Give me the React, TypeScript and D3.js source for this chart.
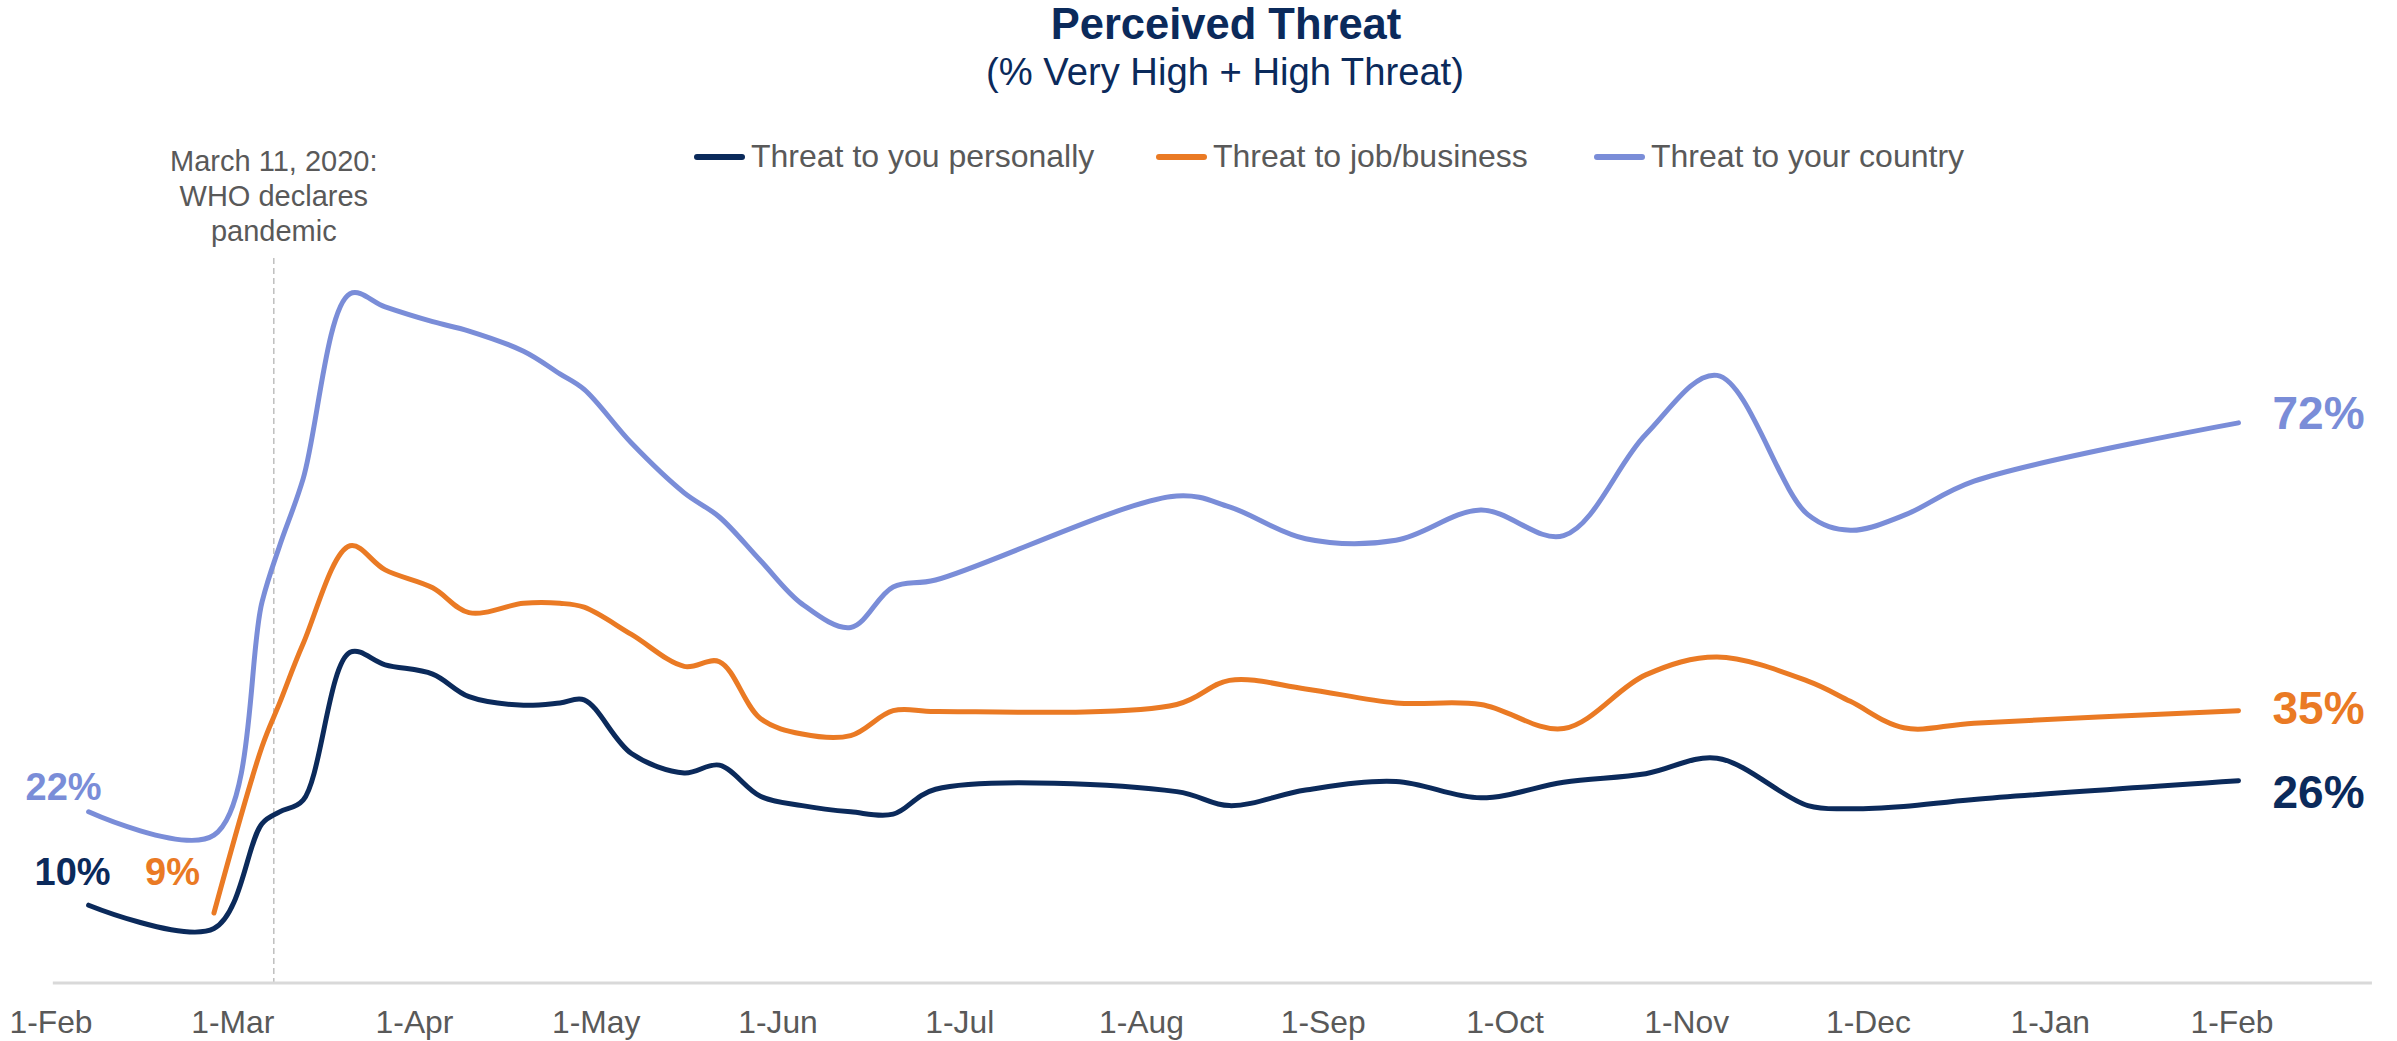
import React from "react";
import * as d3 from "d3";

// ---------- DATA ----------
const waveDates = [
  "2020-02-07", "2020-02-27", "2020-03-06", "2020-03-09", "2020-03-13", "2020-03-21",
  "2020-03-27", "2020-04-04", "2020-04-10", "2020-04-19", "2020-04-25", "2020-04-29",
  "2020-05-07", "2020-05-16", "2020-05-22", "2020-05-29", "2020-06-05", "2020-06-13",
  "2020-06-20", "2020-06-27", "2020-08-07", "2020-08-16", "2020-08-29", "2020-09-13",
  "2020-09-27", "2020-10-11", "2020-10-25", "2020-11-06", "2020-11-21", "2020-11-28",
  "2020-12-07", "2020-12-19", "2021-02-02",
];

const threatPersonal = [
  10, 7, 20.5, 22, 23.5, 42.5, 40.9, 39.7, 36.8, 35.7, 36.0, 36.4,
  29.5, 27, 28, 24, 22.8, 22, 21.7, 24.9, 24.6, 22.8, 24.8, 25.9,
  23.8, 25.8, 26.9, 28.9, 22.8, 22.4, 22.7, 23.6, 26,
];

const threatJob: (number | null)[] = [
  null, 9, 30.4, 36, 43.6, 56.2, 53.1, 50.8, 47.6, 48.8, 48.8, 48.3,
  44.8, 40.7, 41.3, 34, 32, 31.8, 35, 34.9, 35.8, 38.9, 37.8, 36,
  35.8, 32.7, 39.6, 41.9, 38.8, 36.2, 32.8, 33.4, 35,
];

const threatCountry = [
  22, 19, 49, 56.2, 64.8, 88.6, 86.9, 85, 83.8, 81.2, 78.3, 76.3,
  69.4, 63, 59.9, 54.3, 48.7, 45.7, 50.9, 51.8, 62.6, 61.2, 57.1, 56.9,
  60.8, 57.5, 70.5, 78.1, 60.2, 58.2, 60.1, 64.5, 72,
];

const seriesNames = ["Threat to you personally", "Threat to job/business", "Threat to your country"];
const tickLabels = ["1-Feb", "1-Mar", "1-Apr", "1-May", "1-Jun", "1-Jul", "1-Aug", "1-Sep", "1-Oct", "1-Nov", "1-Dec", "1-Jan", "1-Feb"];
const markerDate = "2020-03-08";
const markerText = ["March 11, 2020:", "WHO declares", "pandemic"];
const titleText = "Perceived Threat";
const subtitleText = "(% Very High + High Threat)";

// ---------- STYLE ----------
const NAVY = "#0B2A5B";
const ORANGE = "#EA7A24";
const BLUE = "#7A8DD8";
const GRAY = "#595959";
const FONT = "'Liberation Sans', Arial, sans-serif";

const parse = d3.timeParse("%Y-%m-%d");
function monthIndex(s: string): number {
  const d = parse(s)!;
  const m = (d.getFullYear() - 2020) * 12 + d.getMonth() - 1;
  const dim = new Date(d.getFullYear(), d.getMonth() + 1, 0).getDate();
  return m + (d.getDate() - 1) / dim;
}

export default function App() {
  const W = 2397;
  const H = 1041;
  const x = d3.scaleLinear().domain([0, 12]).range([51, 2232]);
  const y = d3.scaleLinear().domain([0, 100]).range([983, 205]);

  const idx = waveDates.map(monthIndex);
  const series = [
    { name: seriesNames[0], color: NAVY, values: threatPersonal },
    { name: seriesNames[1], color: ORANGE, values: threatJob },
    { name: seriesNames[2], color: BLUE, values: threatCountry },
  ].map((s) => ({
    ...s,
    pts: idx
      .map((t, i) => [t, s.values[i]] as [number, number | null])
      .filter((p) => p[1] != null) as [number, number][],
  }));

  const line = d3
    .line<[number, number]>()
    .x((d) => x(d[0]))
    .y((d) => y(d[1]))
    .curve(d3.curveCatmullRom.alpha(0.5));

  const mx = x(monthIndex(markerDate));
  const legendX = [751, 1213, 1651];

  const startLabels = [
    { s: series[0], anchor: "end", dx: 22, dy: -20 },
    { s: series[1], anchor: "end", dx: -14, dy: -28 },
    { s: series[2], anchor: "end", dx: 13, dy: -12 },
  ];
  const endLabels = [
    { s: series[0], dy: 27 },
    { s: series[1], dy: 13 },
    { s: series[2], dy: 6 },
  ];

  return (
    <svg
      width={W}
      height={H}
      viewBox={`0 0 ${W} ${H}`}
      style={{ position: "absolute", left: 0, top: 0, background: "#fff" }}
      fontFamily={FONT}
    >
      <rect x={0} y={0} width={W} height={H} fill="#fff" />
      {/* Title */}
      <text x={1226} y={39} textAnchor="middle" fontSize={43.5} fontWeight="bold" fill={NAVY}>
        {titleText}
      </text>
      <text x={1225} y={85} textAnchor="middle" fontSize={38.2} fill={NAVY}>
        {subtitleText}
      </text>

      {/* Legend */}
      {series.map((s, i) => (
        <g key={s.name}>
          <line
            x1={legendX[i] - 54}
            x2={legendX[i] - 9}
            y1={157}
            y2={157}
            stroke={s.color}
            strokeWidth={6}
            strokeLinecap="round"
          />
          <text x={legendX[i]} y={167} fontSize={32} fill={GRAY}>
            {s.name}
          </text>
        </g>
      ))}

      {/* Annotation */}
      {markerText.map((t, i) => (
        <text key={t} x={mx} y={171 + i * 35} textAnchor="middle" fontSize={29} fill={GRAY}>
          {t}
        </text>
      ))}
      <line x1={mx} x2={mx} y1={258} y2={988} stroke="#BFBFBF" strokeWidth={1.5} strokeDasharray="6 4" />

      {/* Axis */}
      <line x1={x(0.01)} x2={x(12.77)} y1={y(0)} y2={y(0)} stroke="#D9D9D9" strokeWidth={3} />
      {tickLabels.map((t, i) => (
        <text key={i} x={x(i)} y={1033} textAnchor="middle" fontSize={31.8} fill={GRAY}>
          {t}
        </text>
      ))}

      {/* Lines */}
      {[series[2], series[1], series[0]].map((s) => (
        <path
          key={s.name}
          d={line(s.pts) || ""}
          fill="none"
          stroke={s.color}
          strokeWidth={5}
          strokeLinecap="round"
          strokeLinejoin="round"
        />
      ))}

      {/* Start labels */}
      {startLabels.map(({ s, anchor, dx, dy }) => {
        const p = s.pts[0];
        return (
          <text
            key={s.name}
            x={x(p[0]) + dx}
            y={y(p[1]) + dy}
            textAnchor={anchor as any}
            fontSize={38}
            fontWeight="bold"
            fill={s.color}
          >
            {`${Math.round(p[1])}%`}
          </text>
        );
      })}

      {/* End labels */}
      {endLabels.map(({ s, dy }) => {
        const p = s.pts[s.pts.length - 1];
        return (
          <text
            key={s.name}
            x={x(p[0]) + 34}
            y={y(p[1]) + dy}
            fontSize={46}
            fontWeight="bold"
            fill={s.color}
          >
            {`${Math.round(p[1])}%`}
          </text>
        );
      })}
    </svg>
  );
}
